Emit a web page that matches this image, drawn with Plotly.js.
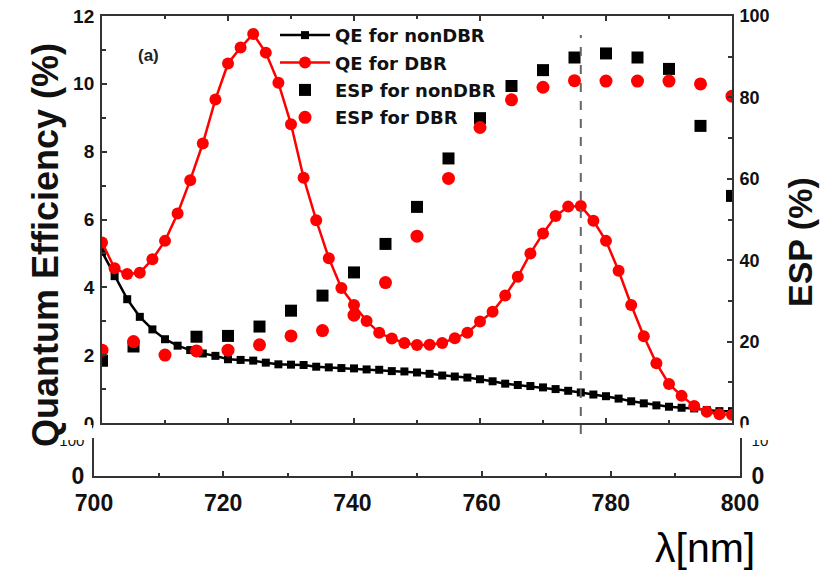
<!DOCTYPE html>
<html>
<head>
<meta charset="utf-8">
<script src="https://cdn.plot.ly/plotly-3.0.1.min.js"></script>
<style>html,body{margin:0;padding:0;background:#fff;}#chart{width:831px;height:575px;}</style>
</head>
<body>
<div id="chart"></div>
<script>
// Wavelength grid for QE curves (nm)
var wlQE = [700,702,704,706,708,710,712,714,716,718,720,722,724,726,728,730,732,734,736,738,740,742,744,746,748,750,752,754,756,758,760,762,764,766,768,770,772,774,776,778,780,782,784,786,788,790,792,794,796,798,800];
var qeNonDBR = [5.05,4.33,3.65,3.13,2.76,2.47,2.28,2.15,2.05,1.98,1.88,1.86,1.84,1.78,1.73,1.72,1.71,1.66,1.64,1.62,1.61,1.58,1.57,1.53,1.52,1.49,1.45,1.40,1.37,1.34,1.29,1.23,1.16,1.12,1.09,1.05,1.00,0.95,0.90,0.84,0.79,0.72,0.64,0.58,0.52,0.48,0.45,0.43,0.38,0.35,0.35];
var qeDBR = [5.32,4.56,4.39,4.43,4.83,5.37,6.18,7.16,8.24,9.54,10.60,11.07,11.47,10.92,10.03,8.81,7.23,5.98,4.86,3.98,3.48,3.01,2.66,2.49,2.36,2.30,2.31,2.36,2.50,2.66,2.99,3.28,3.76,4.31,5.00,5.59,6.10,6.38,6.40,5.96,5.37,4.49,3.48,2.56,1.76,1.15,0.80,0.50,0.33,0.26,0.24];
// ESP points
var wlESPnon = [700,705,715,720,725,730,735,740,745,750,755,760,765,770,775,780,785,790,795,800];
var espNonDBR = [15.3,18.8,21.2,21.4,23.7,27.6,31.3,37.0,44.0,53.1,65.0,74.9,82.8,86.7,89.8,90.8,89.8,87.0,73.0,55.8];
var wlESP = [700,705,710,715,720,725,730,735,740,745,750,755,760,765,770,775,780,785,790,795,800];
var espDBR = [17.9,20.0,16.7,17.7,17.9,19.2,21.4,22.7,26.5,34.5,45.9,60.1,72.6,79.4,82.5,84.1,84.0,84.0,84.0,83.3,80.3];
// Labels
var seriesNames = ['QE for nonDBR','QE for DBR','ESP for nonDBR','ESP for DBR'];
var markLine = 776;
var xTicks = [700,720,740,760,780,800];

var AX = '#333';
var SANS = 'Liberation Sans, Arial, sans-serif';
var tickFontL = {family:SANS, size:19, color:'#111', weight:'bold'};
var bottomFont = {family:SANS, size:23, color:'#111', weight:'bold'};

var traces = [
  {x:wlQE, y:qeNonDBR, name:seriesNames[0], legendgroup:'g1', type:'scatter', mode:'lines+markers', xaxis:'x', yaxis:'y',
   line:{color:'#000', width:2.5}, marker:{symbol:'square', size:8, color:'#000'}},
  {x:wlQE, y:qeDBR, name:seriesNames[1], legendgroup:'g2', type:'scatter', mode:'lines+markers', xaxis:'x', yaxis:'y',
   line:{color:'#ff0000', width:2.5}, marker:{symbol:'circle', size:12, color:'#ff0000'}},
  {x:wlESPnon, y:espNonDBR, name:seriesNames[2], legendgroup:'g3', type:'scatter', mode:'markers', xaxis:'x', yaxis:'y2',
   marker:{symbol:'square', size:12, color:'#000'}},
  {x:wlESP, y:espDBR, name:seriesNames[3], legendgroup:'g4', type:'scatter', mode:'markers', xaxis:'x', yaxis:'y2',
   marker:{symbol:'circle', size:13, color:'#ff0000'}},
  // empty traces so the lower strip's axes exist
  {x:[], y:[], type:'scatter', mode:'markers', xaxis:'x2', yaxis:'y3', showlegend:false, hoverinfo:'skip'},
  {x:[], y:[], type:'scatter', mode:'markers', xaxis:'x2', yaxis:'y4', showlegend:false, hoverinfo:'skip'}
];

function mainAx(extra){
  var o = {showline:true, linecolor:AX, linewidth:2, ticks:'inside', ticklen:5, tickwidth:2, tickcolor:AX,
    showgrid:false, zeroline:false};
  for (var k in extra) o[k]=extra[k];
  return o;
}

var layout = {
  width:831, height:575,
  margin:{l:94, r:91, t:16, b:99, pad:0},
  paper_bgcolor:'#fff', plot_bgcolor:'rgba(0,0,0,0)',
  showlegend:true,
  legend:{x:0.2802, y:0.998, xanchor:'left', yanchor:'top', bgcolor:'rgba(0,0,0,0)',
    font:{family:'DejaVu Sans, sans-serif', size:18, color:'#111', weight:'bold'}, tracegroupgap:1, itemwidth:50},
  xaxis: mainAx({domain:[0.0124,0.9876], range:[700,800], anchor:'y', mirror:'ticks', dtick:20, showticklabels:false,
    minor:{ticks:'inside', ticklen:3, dtick:10}}),
  yaxis: mainAx({domain:[0.1152,1], range:[0,12], anchor:'x', dtick:2, tickfont:tickFontL, ticklabelstandoff:2,
    minor:{ticks:'inside', ticklen:4, dtick:1}}),
  yaxis2: mainAx({overlaying:'y', side:'right', anchor:'x', range:[0,100], dtick:20, tickfont:{family:SANS, size:18, color:'#111', weight:'bold'}, ticklabelstandoff:2,
    minor:{ticks:'inside', ticklen:4, dtick:10}}),
  xaxis2: mainAx({domain:[0,1], anchor:'y3', range:[700,800], tickvals:xTicks, tickfont:bottomFont, ticklabelstandoff:5,
    minor:{ticks:'inside', ticklen:3, dtick:10}}),
  yaxis3: mainAx({domain:[0,0.0826], anchor:'x2', range:[0,100], tickvals:[0,100], ticks:'',
    ticktext:['0','<span style="font-size:15px;font-weight:normal">100</span>'],
    tickfont:bottomFont, ticklabelstandoff:3}),
  yaxis4: mainAx({overlaying:'y3', side:'right', anchor:'x2', range:[0,10], tickvals:[0,10], ticks:'',
    ticktext:['0','<span style="font-size:15px;font-weight:normal">10</span>'],
    tickfont:bottomFont, ticklabelstandoff:5}),
  shapes:[
    {type:'line', xref:'x', yref:'paper', x0:markLine, x1:markLine, y0:0.0913, y1:0.9587, layer:'above',
     line:{color:'#666', width:2, dash:'dash'}},
    {type:'rect', xref:'paper', yref:'paper', x0:-0.06, x1:-0.003, y0:0.0783, y1:0.111, layer:'above', line:{width:0}, fillcolor:'#fff'},
    {type:'rect', xref:'paper', yref:'paper', x0:1.004, x1:1.06, y0:0.0783, y1:0.111, layer:'above', line:{width:0}, fillcolor:'#fff'}
  ],
  annotations:[
    {text:'Quantum Efficiency (%)', xref:'paper', yref:'paper', x:-0.0759, y:0.502, textangle:-90, showarrow:false,
     xanchor:'center', yanchor:'middle', font:{family:SANS, size:36, color:'#111', weight:'bold'}},
    {text:'ESP (%)', xref:'paper', yref:'paper', x:1.0929, y:0.5087, textangle:-90, showarrow:false,
     xanchor:'center', yanchor:'middle', font:{family:SANS, size:34, color:'#111', weight:'bold'}},
    {text:'(a)', xref:'paper', yref:'paper', x:0.0836, y:0.915, showarrow:false, xanchor:'center', yanchor:'middle',
     font:{family:SANS, size:17, color:'#222', weight:'bold'}},
    {text:'λ[nm]', xref:'paper', yref:'paper', x:0.9458, y:-0.1565, showarrow:false, xanchor:'center', yanchor:'middle',
     font:{family:SANS, size:41, color:'#000'}}
  ]
};

Plotly.newPlot('chart', traces, layout, {displayModeBar:false, staticPlot:true});
</script>
</body>
</html>
